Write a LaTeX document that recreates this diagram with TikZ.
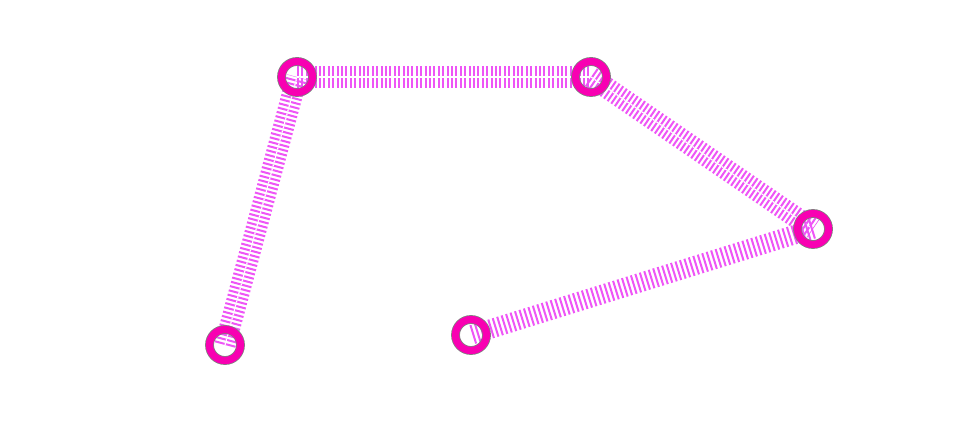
\documentclass[tikz,border=0pt]{standalone}
\usetikzlibrary{backgrounds}
\definecolor{ringc}{RGB}{248,0,178}
\definecolor{edgec}{RGB}{238,85,246}
\begin{document}
\begin{tikzpicture}[x=0.75pt,y=-0.75pt,
  vert/.style={circle, minimum size=23.25pt, inner sep=0pt, draw=gray, line width=0.6pt, double=ringc, double distance=5.4pt},
  link/.style={draw=edgec, line width=7.5pt, double=white, double distance=0.9pt, dash pattern=on 1.5pt off 1.8pt},
  solidlink/.style={draw=edgec, line width=14.5pt, dash pattern=on 1.5pt off 2pt}]
\useasboundingbox (0,0) rectangle (963,434);
\node[vert] (a) at (297,77) {};
\node[vert] (b) at (591,77) {};
\node[vert] (c) at (813,229) {};
\node[vert] (d) at (471,335) {};
\node[vert] (e) at (225,345) {};
\begin{scope}[on background layer]
\draw[link] (e.center) -- (a.center);
\draw[link] (a.center) -- (b.center);
\draw[link] (b.center) -- (c.center);
\draw[solidlink] (c.center) -- (d.center);
\end{scope}
\end{tikzpicture}
\end{document}
